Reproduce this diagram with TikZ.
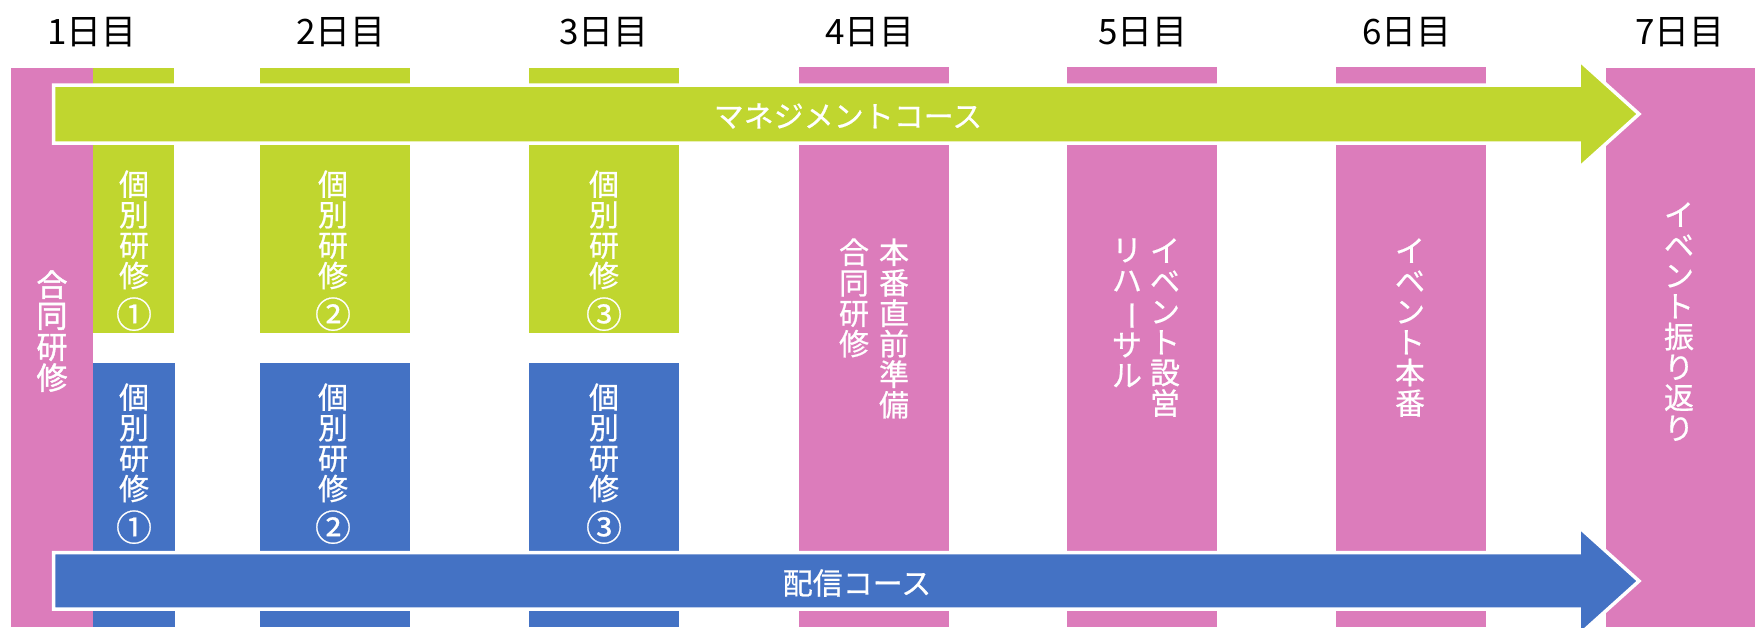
\documentclass[tikz,border=0pt]{standalone}
\usepackage{fontspec}
\usepackage{graphicx}
\setmainfont{Noto Sans CJK JP}
\newfontfamily\wfont[FakeBold=0.6]{Noto Sans CJK JP}
\newfontfamily\wbfont[FakeBold=1.4]{Noto Sans CJK JP}
\definecolor{dpink}{RGB}{220,124,187}
\definecolor{mgreen}{RGB}{192,214,47}
\definecolor{sblue}{RGB}{68,114,196}
\newcommand{\vbar}{\rotatebox[origin=c]{-90}{ー}}
\newcommand{\num}[1]{\scalebox{1.2}{#1}}
\tikzset{
  day/.style={font=\fontsize{17.5}{20}\selectfont, anchor=base},
  vtxt/.style={text=white, font=\wfont\fontsize{15}{15.25}\selectfont, align=center, inner sep=0pt, anchor=north},
  vbold/.style={vtxt, font=\wbfont\fontsize{15.5}{15.5}\selectfont},
  course/.style={fill=#1, draw=white, line width=1.75pt},
  ctxt/.style={text=white, font=\wfont\fontsize{15}{18}\selectfont}
}
\begin{document}
\begin{tikzpicture}[x=0.5pt, y=-0.5pt]
    \useasboundingbox (0,0) rectangle (1755,627);
    \clip (0,0) rectangle (1755,627);

    \fill[dpink] (11,68) rectangle (93,627);
    \fill[mgreen] (93,68) rectangle (174,333);
    \fill[mgreen] (260,68) rectangle (410,333);
    \fill[mgreen] (529,68) rectangle (679,333);
    \fill[sblue] (93,363) rectangle (175,627);
    \fill[sblue] (260,363) rectangle (410,627);
    \fill[sblue] (529,363) rectangle (679,627);
    \fill[dpink] (799,67) rectangle (949,627);
    \fill[dpink] (1067,67) rectangle (1217,627);
    \fill[dpink] (1336,67) rectangle (1486,627);
    \fill[dpink] (1606,68) rectangle (1755,627);

    \node[day] (d1) at (92,44) {1日目};
    \node[day] (d2) at (341,44) {2日目};
    \node[day] (d3) at (604,44) {3日目};
    \node[day] (d4) at (870,44) {4日目};
    \node[day] (d5) at (1143,44) {5日目};
    \node[day] (d6) at (1407,44) {6日目};
    \node[day] (d7) at (1680,44) {7日目};

    \draw[course=mgreen] (53.5,85) -- (1579,85) -- (1579,60) -- (1639,114)
        -- (1579,168) -- (1579,143) -- (53.5,143) -- cycle;
    \draw[course=sblue] (53.5,552.5) -- (1579,552.5) -- (1579,527) -- (1639,581)
        -- (1579,635) -- (1579,609) -- (53.5,609) -- cycle;
    \node[ctxt] (mc) at (848,116) {マネジメントコース};
    \node[ctxt] (sc) at (857,583) {配信コース};

    \node[vbold] (j1) at (52,270) {合\\同\\研\\修};
    \node[vtxt] (g1) at (134,170) {個\\別\\研\\修\\[3pt]\num{①}};
    \node[vtxt] (g2) at (333,170) {個\\別\\研\\修\\[3pt]\num{②}};
    \node[vtxt] (g3) at (604,170) {個\\別\\研\\修\\[3pt]\num{③}};
    \node[vtxt] (b1) at (134,383) {個\\別\\研\\修\\[3pt]\num{①}};
    \node[vtxt] (b2) at (333,383) {個\\別\\研\\修\\[3pt]\num{②}};
    \node[vtxt] (b3) at (604,383) {個\\別\\研\\修\\[3pt]\num{③}};
    \node[vtxt] (p4) at (894,238) {本\\番\\直\\前\\準\\備};
    \node[vtxt] (j4) at (854,238) {合\\同\\研\\修};
    \node[vtxt] (p5) at (1165,238) {イ\\ベ\\ン\\ト\\設\\営};
    \node[vtxt] (r5) at (1127,238) {リ\\ハ\\\vbar\\サ\\ル};
    \node[vtxt] (p6) at (1410,238) {イ\\ベ\\ン\\ト\\本\\番};
    \node[vtxt] (p7) at (1679,202) {イ\\ベ\\ン\\ト\\振\\り\\返\\り};
\end{tikzpicture}
\end{document}
